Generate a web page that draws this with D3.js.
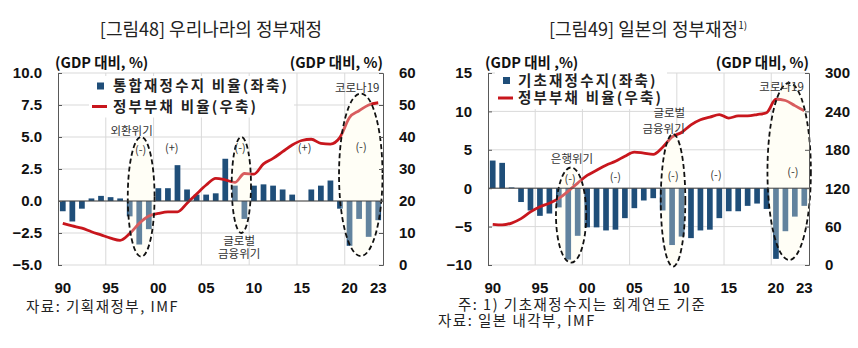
<!DOCTYPE html>
<html>
<head>
<meta charset="utf-8">
<script src="https://cdn.jsdelivr.net/npm/d3@7"></script>
<style>
  body { margin: 0; background: #fff; }
  svg { display: block; font-family: 'Noto Sans CJK KR', 'Noto Sans', sans-serif; }
  .grid line { stroke: #d9d9d9; stroke-width: 1; }
  .axis path, .axis line { stroke: #595959; }
  .axis text { font-size: 15px; font-weight: 700; fill: #111; }
  .unit { font-size: 14.5px; font-weight: 700; fill: #111; }
  .legend text { font-size: 14.5px; font-weight: 700; fill: #222; letter-spacing: 2.2px; }
  .note { font-size: 11.5px; fill: #333; }
  .title { font-size: 18px; fill: #222; }
  .source { font-size: 14.5px; fill: #222; letter-spacing: 1.5px; }
</style>
</head>
<body>
<svg id="chart" width="858" height="348"></svg>
<script>
// categories
const years = [1990, 1991, 1992, 1993, 1994, 1995, 1996, 1997, 1998, 1999,
               2000, 2001, 2002, 2003, 2004, 2005, 2006, 2007, 2008, 2009,
               2010, 2011, 2012, 2013, 2014, 2015, 2016, 2017, 2018, 2019,
               2020, 2021, 2022, 2023];
const tickYears = [1990, 1995, 2000, 2005, 2010, 2015, 2020, 2023];
const tickLabels = ['90', '95', '00', '05', '10', '15', '20', '23'];

// [그림48] Korea: consolidated fiscal balance (left) and gov. debt (right), % of GDP
const krBalance = [-0.8, -1.6, -0.6, 0.2, 0.4, 0.3, 0.2, -1.2, -3.4, -2.2,
                   1.0, 1.0, 2.8, 0.9, 0.5, 0.5, 0.6, 3.3, 1.2, -1.4,
                   1.2, 1.3, 1.2, 0.9, 0.5, 0.0, 0.9, 1.2, 1.6, -0.6,
                   -3.5, -1.4, -2.8, -1.5];
const krDebt = [13.0, 12.2, 11.5, 10.4, 9.4, 8.4, 7.7, 9.8, 13.0, 15.3,
                16.1, 16.6, 16.6, 19.3, 22.2, 25.0, 27.1, 26.6, 25.8, 28.6,
                28.4, 31.6, 33.3, 35.4, 37.5, 38.9, 39.3, 38.0, 37.8, 39.9,
                46.1, 48.2, 50.0, 50.7];
const krLeftTicks = [10, 7.5, 5, 2.5, 0, -2.5, -5];
const krRightTicks = [60, 50, 40, 30, 20, 10, 0];

// [그림49] Japan: primary balance (left) and gov. debt (right), % of GDP
const jpBalance = [3.6, 3.3, 0.1, -1.8, -2.9, -3.6, -3.3, -2.5, -9.3, -6.2,
                   -5.1, -5.1, -5.5, -5.4, -3.9, -2.6, -1.6, -1.3, -2.9, -7.4,
                   -6.3, -6.5, -5.5, -5.4, -3.9, -3.0, -3.0, -2.3, -2.0, -2.7,
                   -9.2, -5.6, -3.7, -2.3];
const jpDebt = [63.6, 62.8, 65.5, 72.5, 83.0, 91.0, 96.5, 104.0, 115.5, 128.0,
                140.0, 148.0, 156.0, 162.0, 170.0, 176.5, 174.8, 173.0, 184.0, 200.0,
                207.0, 219.0, 227.0, 231.0, 235.0, 229.6, 233.0, 233.0, 235.0, 238.0,
                259.0, 257.0, 249.0, 241.0];
const jpLeftTicks = [15, 10, 5, 0, -5, -10];
const jpRightTicks = [300, 240, 180, 120, 60, 0];

// crisis ellipses: span in years (bar centres) and in left-axis values
const krCrises = [
  { x0: 1996.8, x1: 1999.6, v0: -4.35, v1: 5.0 },
  { x0: 2007.67, x1: 2009.69, v0: -2.5, v1: 5.0 },
  { x0: 2018.9, x1: 2023.45, v0: -4.3, v1: 8.4 }
];
const krNotes = [
  { text: '외환위기', year: 1997.2, value: 5.5 },
  { text: '(-)', year: 1998.15, value: 4.0 },
  { text: '(+)', year: 2001.4, value: 4.15 },
  { text: '(-)', year: 2008.55, value: 4.1 },
  { text: '(+)', year: 2015.3, value: 4.1 },
  { text: '(-)', year: 2021.2, value: 4.2 },
  { text: '코로나19', year: 2020.8, value: 8.8 },
  { text: '글로벌', year: 2008.45, value: -3.1 },
  { text: '금융위기', year: 2008.45, value: -4.1 }
];
const jpCrises = [
  { x0: 1996.7, x1: 1999.9, v0: -9.7, v1: 2.7 },
  { x0: 2007.8, x1: 2010.4, v0: -10.2, v1: 7.05 },
  { x0: 2019.1, x1: 2023.7, v0: -9.35, v1: 13.7 }
];
const jpNotes = [
  { text: '은행위기', year: 1998.4, value: 3.76 },
  { text: '(-)', year: 1998.2, value: 1.2 },
  { text: '(-)', year: 2003.0, value: 1.4 },
  { text: '(-)', year: 2009.1, value: 1.6 },
  { text: '(-)', year: 2013.65, value: 1.7 },
  { text: '(-)', year: 2021.8, value: 2.1 },
  { text: '코로나19', year: 2020.6, value: 13.2 },
  { text: '글로벌', year: 2008.7, value: 9.8 },
  { text: '금융위기', year: 2008.1, value: 7.75 }
];

class FiscalChart {

  constructor(_config, _data) {
    this.config = {
      parentElement: _config.parentElement,
      left: _config.left,
      right: _config.right,
      top: 73,
      bottom: 265,
      leftDomain: _config.leftDomain,
      rightDomain: _config.rightDomain,
      leftTicks: _config.leftTicks,
      rightTicks: _config.rightTicks,
      leftFormat: _config.leftFormat,
      legend: _config.legend,
      leftUnit: _config.leftUnit,
      rightUnit: _config.rightUnit
    };
    this.data = _data;
    this.initVis();
  }

  initVis() {
    let vis = this;
    const c = vis.config;

    vis.chart = d3.select(c.parentElement).append('g');

    // paddingOuter = paddingInner / 2 keeps the step at width / 34
    vis.xScale = d3.scaleBand()
      .domain(years)
      .range([c.left, c.right])
      .paddingInner(0.4)
      .paddingOuter(0.2);

    vis.yLeft = d3.scaleLinear().domain(c.leftDomain).range([c.bottom, c.top]);
    vis.yRight = d3.scaleLinear().domain(c.rightDomain).range([c.bottom, c.top]);

    // continuous year position (for ellipses and notes)
    vis.xYear = yr => vis.xScale(years[0]) + vis.xScale.bandwidth() / 2 + (yr - years[0]) * vis.xScale.step();

    vis.updateVis();
  }

  updateVis() {
    let vis = this;
    vis.rows = years.map((yr, i) => ({ year: yr, balance: vis.data.balance[i], debt: vis.data.debt[i] }));
    vis.renderVis();
  }

  renderVis() {
    let vis = this;
    const c = vis.config;

    // grid
    const grid = vis.chart.append('g').attr('class', 'grid');
    grid.selectAll('.h').data(c.leftTicks).join('line')
      .attr('x1', c.left).attr('x2', c.right)
      .attr('y1', d => vis.yLeft(d)).attr('y2', d => vis.yLeft(d));
    grid.selectAll('.v').data(tickYears.slice(1, 7)).join('line')
      .attr('x1', d => vis.xScale(d) - vis.xScale.step() * 0.2)
      .attr('x2', d => vis.xScale(d) - vis.xScale.step() * 0.2)
      .attr('y1', c.top).attr('y2', c.bottom);

    // ellipse base (hides grid inside)
    const ell = e => ({
      cx: (vis.xYear(e.x0) + vis.xYear(e.x1)) / 2,
      cy: (vis.yLeft(e.v0) + vis.yLeft(e.v1)) / 2,
      rx: Math.abs(vis.xYear(e.x1) - vis.xYear(e.x0)) / 2,
      ry: Math.abs(vis.yLeft(e.v0) - vis.yLeft(e.v1)) / 2
    });
    vis.chart.append('g').selectAll('ellipse').data(vis.data.crises).join('ellipse')
      .attr('cx', d => ell(d).cx).attr('cy', d => ell(d).cy)
      .attr('rx', d => ell(d).rx).attr('ry', d => ell(d).ry)
      .attr('fill', '#fffef6');

    // legend background
    const lg = c.legend;
    vis.chart.append('rect')
      .attr('x', lg.x - 8).attr('y', lg.y - 10)
      .attr('width', lg.w).attr('height', lg.gap + 21)
      .attr('fill', '#fff');

    // bars
    vis.chart.append('g').selectAll('rect').data(vis.rows).join('rect')
      .attr('x', d => vis.xScale(d.year))
      .attr('width', vis.xScale.bandwidth())
      .attr('y', d => vis.yLeft(Math.max(0, d.balance)))
      .attr('height', d => Math.abs(vis.yLeft(d.balance) - vis.yLeft(0)))
      .attr('fill', '#1f4e79');

    // debt line
    const line = d3.line()
      .x(d => vis.xScale(d.year) + vis.xScale.bandwidth() / 2)
      .y(d => vis.yRight(d.debt))
      .curve(d3.curveMonotoneX);
    vis.chart.append('path').datum(vis.rows)
      .attr('d', line)
      .attr('fill', 'none')
      .attr('stroke', '#c8161d')
      .attr('stroke-width', 2.8)
      .attr('stroke-linejoin', 'round');

    // ellipse overlay + dashed outline
    vis.chart.append('g').selectAll('ellipse').data(vis.data.crises).join('ellipse')
      .attr('cx', d => ell(d).cx).attr('cy', d => ell(d).cy)
      .attr('rx', d => ell(d).rx).attr('ry', d => ell(d).ry)
      .attr('fill', '#fffef6').attr('fill-opacity', 0.3)
      .attr('stroke', '#111').attr('stroke-width', 1.8)
      .attr('stroke-dasharray', '5,3');

    // zero line
    vis.chart.append('line')
      .attr('x1', c.left).attr('x2', c.right)
      .attr('y1', vis.yLeft(0)).attr('y2', vis.yLeft(0))
      .attr('stroke', '#404040').attr('stroke-width', 1);

    // axes
    vis.chart.append('g').attr('class', 'axis')
      .attr('transform', `translate(${c.left},0)`)
      .call(d3.axisLeft(vis.yLeft).tickValues(c.leftTicks).tickFormat(c.leftFormat)
        .tickSizeInner(-4).tickSizeOuter(-4).tickPadding(16));
    vis.chart.append('g').attr('class', 'axis')
      .attr('transform', `translate(${c.right},0)`)
      .call(d3.axisRight(vis.yRight).tickValues(c.rightTicks).tickFormat(d3.format('d'))
        .tickSizeInner(-4).tickSizeOuter(-4).tickPadding(16));
    const xAxis = vis.chart.append('g').attr('class', 'axis')
      .attr('transform', `translate(0,${c.bottom})`)
      .call(d3.axisBottom(vis.xScale).tickValues(tickYears)
        .tickFormat((d, i) => tickLabels[i]).tickSize(0).tickPadding(17));
    xAxis.select('.domain').remove();

    // unit labels
    vis.chart.append('text').attr('class', 'unit')
      .attr('x', c.left - 3).attr('y', 68).text(c.leftUnit);
    vis.chart.append('text').attr('class', 'unit')
      .attr('x', c.right).attr('y', 68).attr('text-anchor', 'end').text(c.rightUnit);

    // notes
    vis.chart.append('g').selectAll('text').data(vis.data.notes).join('text')
      .attr('class', 'note')
      .attr('x', d => vis.xYear(d.year))
      .attr('y', d => vis.yLeft(d.value))
      .attr('dy', '0.35em')
      .attr('text-anchor', 'middle')
      .style('font-size', d => d.text.startsWith('(') ? '11px' : null)
      .text(d => d.text);

    // legend
    const legend = vis.chart.append('g').attr('class', 'legend');
    legend.append('rect')
      .attr('x', lg.x).attr('y', lg.y - 3.5).attr('width', 7).attr('height', 7)
      .attr('fill', '#1f4e79');
    legend.append('line')
      .attr('x1', lg.x - 5).attr('x2', lg.x + 10)
      .attr('y1', lg.y + lg.gap).attr('y2', lg.y + lg.gap)
      .attr('stroke', '#c8161d').attr('stroke-width', 3);
    legend.append('text').attr('x', lg.x + lg.textDx).attr('y', lg.y).attr('dy', '0.35em').text(lg.labels[0]);
    legend.append('text').attr('x', lg.x + lg.textDx).attr('y', lg.y + lg.gap).attr('dy', '0.35em').text(lg.labels[1]);
  }
}

const svg = d3.select('#chart');

new FiscalChart({
  parentElement: '#chart',
  left: 58, right: 383,
  leftDomain: [-5, 10], rightDomain: [0, 60],
  leftTicks: krLeftTicks, rightTicks: krRightTicks,
  leftFormat: d3.format('.1f'),
  leftUnit: '(GDP 대비, %)', rightUnit: '(GDP 대비, %)',
  legend: { x: 97, y: 86, gap: 20.5, textDx: 16, w: 205, labels: ['통합재정수지 비율(좌축)', '정부부채 비율(우축)'] }
}, { balance: krBalance, debt: krDebt, crises: krCrises, notes: krNotes });

new FiscalChart({
  parentElement: '#chart',
  left: 488, right: 809,
  leftDomain: [-10, 15], rightDomain: [0, 300],
  leftTicks: jpLeftTicks, rightTicks: jpRightTicks,
  leftFormat: d3.format('d'),
  leftUnit: '(GDP 대비 ,%)', rightUnit: '(GDP 대비, %)',
  legend: { x: 503, y: 80.5, gap: 17.5, textDx: 15, w: 172, labels: ['기초재정수지(좌축)', '정부부채 비율(우축)'] }
}, { balance: jpBalance, debt: jpDebt, crises: jpCrises, notes: jpNotes });

// titles and sources
svg.append('text').attr('class', 'title')
  .attr('x', 211).attr('y', 36).attr('text-anchor', 'middle')
  .text('[그림48] 우리나라의 정부재정');
const t2 = svg.append('text').attr('class', 'title')
  .attr('x', 648).attr('y', 36).attr('text-anchor', 'middle');
t2.append('tspan').text('[그림49] 일본의 정부재정');
t2.append('tspan').attr('dy', -7).style('font-size', '10px').text('1)');

svg.append('text').attr('class', 'source').attr('x', 26).attr('y', 312).text('자료: 기획재정부, IMF');
svg.append('text').attr('class', 'source').attr('x', 458).attr('y', 310).text('주: 1) 기초재정수지는 회계연도 기준');
svg.append('text').attr('class', 'source').attr('x', 438).attr('y', 326).text('자료: 일본 내각부, IMF');
</script>
</body>
</html>
